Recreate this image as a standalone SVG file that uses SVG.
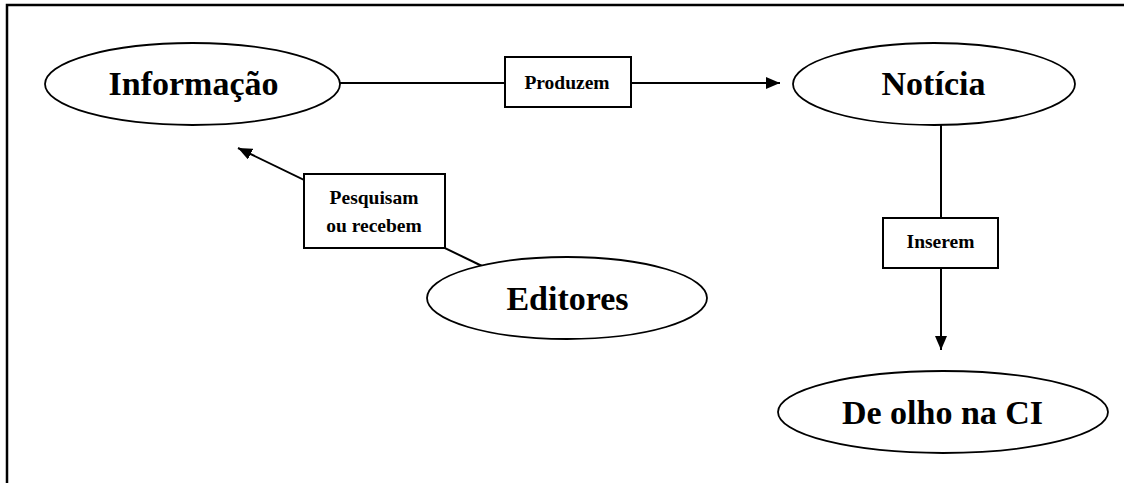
<svg xmlns="http://www.w3.org/2000/svg" width="1124" height="483" viewBox="0 0 1124 483">
<style>
.node{fill:#fff;stroke:#000;stroke-width:1.8}
.box{fill:#fff;stroke:#000;stroke-width:2}
.big{font-family:"Liberation Serif","Times New Roman",serif;font-weight:bold;font-size:34px;text-anchor:middle;fill:#000}
.lbl{font-family:"Liberation Serif","Times New Roman",serif;font-weight:bold;font-size:19.5px;text-anchor:middle;fill:#000}
.edge{stroke:#000;stroke-width:2;fill:none}
.frame{stroke:#000;stroke-width:2.5;fill:none}
</style>
<defs>
<marker id="arr" viewBox="0 0 14 12" refX="14" refY="6" markerWidth="14" markerHeight="12" markerUnits="userSpaceOnUse" orient="auto">
<path d="M0,0 L14,6 L0,12 Z" fill="#000"/>
</marker>
</defs>
<rect width="1124" height="483" fill="#fff"/>
<path class="frame" d="M7,483 L7,5 L1124,5"/>
<g id="connectors">
<line class="edge" x1="340" y1="83" x2="780" y2="83" marker-end="url(#arr)"/>
<line class="edge" x1="941" y1="125" x2="941" y2="350" marker-end="url(#arr)"/>
<line class="edge" x1="482" y1="266" x2="238" y2="148" marker-end="url(#arr)"/>
</g>
<g id="label-produzem">
<rect class="box" x="505" y="57" width="126" height="50"/>
<text class="lbl" x="567" y="89">Produzem</text>
</g>
<g id="label-inserem">
<rect class="box" x="883" y="218" width="115" height="50"/>
<text class="lbl" x="940.5" y="248">Inserem</text>
</g>
<g id="label-pesquisam">
<rect class="box" x="304" y="174" width="141" height="74"/>
<text class="lbl" x="374" y="204">Pesquisam</text>
<text class="lbl" x="374" y="232">ou recebem</text>
</g>
<g id="node-informacao">
<ellipse class="node" cx="192.5" cy="84" rx="147.5" ry="41"/>
<text class="big" x="193.5" y="95">Informação</text>
</g>
<g id="node-noticia">
<ellipse class="node" cx="934" cy="84" rx="141" ry="41"/>
<text class="big" x="933.5" y="95">Notícia</text>
</g>
<g id="node-editores">
<ellipse class="node" cx="567" cy="298" rx="140" ry="41"/>
<text class="big" x="567.5" y="310">Editores</text>
</g>
<g id="node-deolho">
<ellipse class="node" cx="943" cy="412" rx="165" ry="41"/>
<text class="big" x="942.5" y="424">De olho na CI</text>
</g>
</svg>
